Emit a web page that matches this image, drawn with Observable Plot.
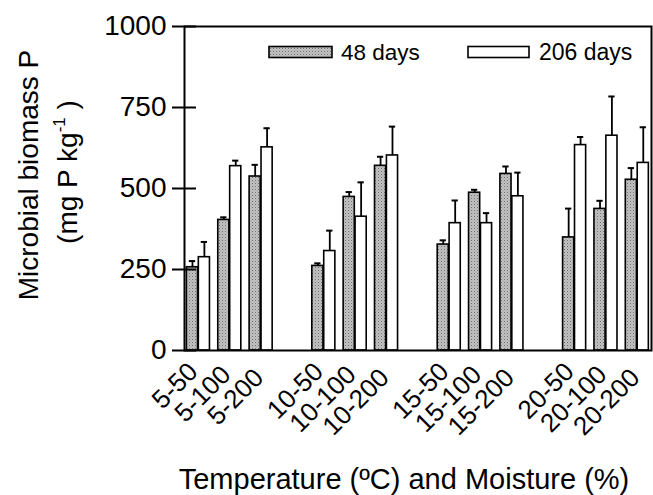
<!DOCTYPE html>
<html><head><meta charset="utf-8">
<script src="https://cdn.jsdelivr.net/npm/d3@7"></script>
<script src="https://cdn.jsdelivr.net/npm/@observablehq/plot@0.6"></script>
<style>body{margin:0;background:#fff} svg{display:block}</style>
</head><body><div id="chart"></div>
<script>
const conditions = ["5-50","5-100","5-200","10-50","10-100","10-200","15-50","15-100","15-200","20-50","20-100","20-200"];
const series = ["48 days","206 days"];
const mean48  = [257,403,537, 261,474,570, 327,487,545, 349,437,527];
const err48   = [19,8,36, 8,15,28, 13,9,23, 89,25,36];
const mean206 = [288,569,627, 307,413,602, 393,393,476, 634,663,579];
const err206  = [47,17,59, 63,106,89, 70,31,73, 25,121,110];
const yTicks = [0,250,500,750,1000];
const xTitle = "Temperature (ºC) and Moisture (%)";
const yTitle1 = "Microbial biomass P";

// layout: 3 conditions per temperature group, one empty slot between groups
const BAR = 0.355, OFF = 0.38;
const slotOf = i => Math.floor(i / 3) * 4 + (i % 3);
const rows = [];
conditions.forEach((c, i) => {
  const s = slotOf(i);
  rows.push({cond: c, series: series[0], value: mean48[i], err: err48[i], x1: s, x2: s + BAR, cx: s + BAR / 2});
  rows.push({cond: c, series: series[1], value: mean206[i], err: err206[i], x1: s + OFF, x2: s + OFF + BAR, cx: s + OFF + BAR / 2});
});
const labels = conditions.map((c, i) => ({cond: c, k: i % 3, x: slotOf(i) + (OFF + BAR) / 2}));

const W = 653, H = 495, ML = 184, MR = 2, MT = 26, MB = 145;
const frameW = W - ML - MR;

const marks = [
  Plot.rect(rows.filter(d => d.series === series[0]), {x1: "x1", x2: "x2", y1: 0, y2: "value", fill: "url(#stipple)", stroke: "black", strokeWidth: 1.6}),
  Plot.rect(rows.filter(d => d.series === series[1]), {x1: "x1", x2: "x2", y1: 0, y2: "value", fill: "white", stroke: "black", strokeWidth: 1.6}),
  Plot.ruleX(rows, {x: "cx", y1: "value", y2: d => d.value + d.err, stroke: "black", strokeWidth: 1.8}),
  Plot.ruleY(rows, {y: d => d.value + d.err, x1: d => d.cx - 0.1, x2: d => d.cx + 0.1, stroke: "black", strokeWidth: 2}),
  Plot.frame({stroke: "black", strokeWidth: 2}),
  Plot.axisY(yTicks, {anchor: "left", tickSize: 12, tickPadding: 6, strokeWidth: 2, fontSize: 28, tickFormat: d => String(d), label: null}),
  Plot.tickY(yTicks, {y: d => d, insetRight: frameW - 12, stroke: "black", strokeWidth: 2})
];
[0, 1, 2].forEach(k => {
  marks.push(Plot.text(labels.filter(d => d.k === k), {x: "x", y: 0, text: "cond", rotate: -45, textAnchor: "end", lineAnchor: "middle", dx: -5 + 1.5 * k, dy: 17 + 3 * k, fontSize: 26, fill: "black"}));
});

const plot = Plot.plot({
  width: W, height: H,
  marginLeft: ML, marginRight: MR, marginTop: MT, marginBottom: MB,
  x: {domain: [-0.077, 14.82], axis: null},
  y: {domain: [0, 1000], axis: null, tickFormat: d => String(d)},
  style: {fontFamily: "'Liberation Sans', Arial, sans-serif", fontSize: "28px", color: "black", background: "white"},
  marks
});

const svg = d3.select(plot);
const defs = svg.insert("defs", ":first-child");
const pat = defs.append("pattern").attr("id", "stipple").attr("width", 3).attr("height", 3).attr("patternUnits", "userSpaceOnUse");
pat.append("rect").attr("width", 3).attr("height", 3).attr("fill", "#c2c2c2");
pat.append("rect").attr("width", 1).attr("height", 1).attr("fill", "#6e6e6e");
pat.append("rect").attr("x", 1.5).attr("y", 1.5).attr("width", 1).attr("height", 1).attr("fill", "#999999");

const ann = svg.append("g").attr("font-family", "'Liberation Sans', Arial, sans-serif").attr("fill", "black").attr("text-anchor", "start");
// legend
ann.append("rect").attr("x", 269).attr("y", 46.5).attr("width", 63).attr("height", 11).attr("fill", "url(#stipple)").attr("stroke", "black").attr("stroke-width", 1.6);
ann.append("text").attr("x", 341).attr("y", 60).attr("text-anchor", "start").attr("font-size", 22.5).text(series[0]);
ann.append("rect").attr("x", 468).attr("y", 46.5).attr("width", 61).attr("height", 11).attr("fill", "white").attr("stroke", "black").attr("stroke-width", 1.6);
ann.append("text").attr("x", 539).attr("y", 60).attr("text-anchor", "start").attr("font-size", 23).text(series[1]);
// y title
ann.append("text").attr("transform", "translate(38,175) rotate(-90)").attr("text-anchor", "middle").attr("font-size", 28).text(yTitle1);
const t2 = ann.append("text").attr("transform", "translate(77,172) rotate(-90)").attr("text-anchor", "middle").attr("font-size", 28);
t2.append("tspan").text("(mg P kg");
t2.append("tspan").attr("font-size", 17).attr("dy", -12).text("-1");
t2.append("tspan").attr("dy", 12).text(" )");
// x title
ann.append("text").attr("x", 404).attr("y", 489).attr("text-anchor", "middle").attr("font-size", 29).text(xTitle);

document.getElementById("chart").appendChild(plot);
</script>
</body></html>
